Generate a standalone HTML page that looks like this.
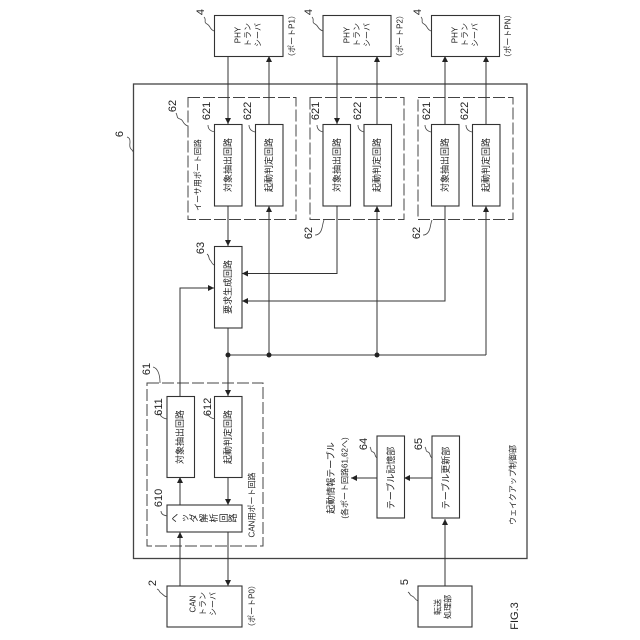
<!DOCTYPE html>
<html><head><meta charset="utf-8"><style>
html,body{margin:0;padding:0;background:#fff}
svg{display:block}
text{font-family:"Liberation Sans","Noto Sans CJK JP",sans-serif;fill:#222;text-anchor:middle;dominant-baseline:central}
.b{fill:#fff;stroke:#333;stroke-width:1.1}
.d{fill:none;stroke:#444;stroke-width:1;stroke-dasharray:12 3}
.l{fill:none;stroke:#333;stroke-width:1}
.c{fill:none;stroke:#444;stroke-width:.8}
.a{marker-end:url(#m)}
</style></head><body>
<svg width="640" height="640" viewBox="0 0 640 640" xmlns="http://www.w3.org/2000/svg">
<defs><marker id="m" markerUnits="userSpaceOnUse" markerWidth="7" markerHeight="7" refX="6" refY="3" orient="auto"><path d="M0,0L6,3L0,6Z" fill="#222"/></marker></defs>
<rect width="640" height="640" fill="#fff"/>
<rect x="133.500" y="84" width="393.500" height="474.500" fill="none" stroke="#444" stroke-width="1.300"/>
<rect class="d" x="188" y="97.500" width="108" height="122"/>
<rect class="d" x="310" y="97.500" width="94" height="122"/>
<rect class="d" x="418" y="97.500" width="95" height="122"/>
<rect class="d" x="147" y="383" width="116" height="163"/>
<g>
<path class="l a" d="M228,56V124"/><path class="l a" d="M269,124V56"/>
<path class="l a" d="M337,56V124"/><path class="l a" d="M377,124V56"/>
<path class="l a" d="M445,124V56"/><path class="l a" d="M486,124V56"/>
<path class="l a" d="M228,206V246"/>
<path class="l a" d="M269,355V206"/><path class="l a" d="M377,355V206"/><path class="l a" d="M486,355V206"/>
<path class="l a" d="M337,206V273.500H242"/>
<path class="l a" d="M445,206V301H242"/>
<path class="l a" d="M180,396V288H214"/>
<path class="l a" d="M228,328V396"/>
<path class="l" d="M228,355H486"/>
<path class="l a" d="M180,505V477"/>
<path class="l a" d="M228,477V505"/>
<path class="l a" d="M180,586V532"/>
<path class="l a" d="M228,532V586"/>
<path class="l a" d="M432,478H404"/>
<path class="l a" d="M377,478H351"/>
<path class="l a" d="M445,586V519"/>
<circle cx="228" cy="355" r="2.500" fill="#222"/><circle cx="269" cy="355" r="2.500" fill="#222"/><circle cx="377" cy="355" r="2.500" fill="#222"/>
</g>
<rect class="b" x="214.500" y="15.500" width="68.500" height="41"/>
<rect class="b" x="323" y="15.500" width="68" height="41"/>
<rect class="b" x="431.500" y="15.500" width="68" height="41"/>
<rect class="b" x="214.500" y="124.500" width="27.500" height="81.500"/><rect class="b" x="255.500" y="124.500" width="27.500" height="81.500"/>
<rect class="b" x="323" y="124.500" width="27.500" height="81.500"/><rect class="b" x="364" y="124.500" width="27.500" height="81.500"/>
<rect class="b" x="431.500" y="124.500" width="27.500" height="81.500"/><rect class="b" x="472.500" y="124.500" width="27.500" height="81.500"/>
<rect class="b" x="214.500" y="246.500" width="27.500" height="81.500"/>
<rect class="b" x="167" y="396.500" width="27.500" height="81"/><rect class="b" x="214.500" y="396.500" width="27.500" height="81"/>
<rect class="b" x="167" y="505" width="75" height="27"/>
<rect class="b" x="167" y="586" width="75" height="41"/>
<rect class="b" x="377" y="436" width="27.500" height="82"/><rect class="b" x="432" y="436" width="27.500" height="82"/>
<rect class="b" x="418" y="586" width="54" height="41"/>

<!-- curls -->
<path class="c" d="M204,17c3,3 -1,5 3,7s2,5 7,7"/>
<path class="c" d="M312,17c3,3 -1,5 3,7s2,5 8,7"/>
<path class="c" d="M421,17c3,3 -1,5 3,7s2,5 7,7"/>
<path class="c" d="M176,113c2,3 0,5 4,6s2,5 8,7"/>
<path class="c" d="M208,125c0,4 2,6 7,7"/><path class="c" d="M249,125c0,4 2,6 6,7"/>
<path class="c" d="M317,125c0,4 2,6 6,7"/><path class="c" d="M358,125c0,4 2,6 6,7"/>
<path class="c" d="M425,125c0,4 2,6 6,7"/><path class="c" d="M466,125c0,4 2,6 6,7"/>
<path class="c" d="M315,235c4,0 6,-3 7,-7s1,-6 2,-8"/>
<path class="c" d="M423,235c4,0 6,-3 7,-7s1,-6 2,-8"/>
<path class="c" d="M127,137c3,1 3,3 3,5s-1,5 1,7s2,2 2,3"/>
<path class="c" d="M207,254c3,2 1,4 3,6s1,3 4,5"/>
<path class="c" d="M153,367c4,1 7,6 7,16"/>
<path class="c" d="M160,413c0,3 2,5 7,6"/><path class="c" d="M208,413c0,3 2,5 7,6"/>
<path class="c" d="M161,511c0,3 2,4 6,5"/>
<path class="c" d="M157,589c3,1 2,3 4,4s2,3 6,4"/>
<path class="c" d="M370,447c2,3 0,4 3,5s1,4 4,6"/>
<path class="c" d="M425,447c2,3 0,4 3,5s1,4 4,6"/>
<path class="c" d="M408,592c3,2 1,3 4,4s2,3 6,5"/>

<!-- box text -->
<g font-size="8">
<text transform="translate(238,35) rotate(-90)">PHY</text><text transform="translate(248,35) rotate(-90)">トラン</text><text transform="translate(258,35) rotate(-90)">シーバ</text>
<text transform="translate(347,35) rotate(-90)">PHY</text><text transform="translate(357,35) rotate(-90)">トラン</text><text transform="translate(367,35) rotate(-90)">シーバ</text>
<text transform="translate(455,35) rotate(-90)">PHY</text><text transform="translate(465,35) rotate(-90)">トラン</text><text transform="translate(475,35) rotate(-90)">シーバ</text>
<text transform="translate(193,604) rotate(-90)">CAN</text><text transform="translate(203,604) rotate(-90)">トラン</text><text transform="translate(213,604) rotate(-90)">シーバ</text>
<text transform="translate(292,36) rotate(-90)">（ポートP1）</text>
<text transform="translate(400,36) rotate(-90)">（ポートP2）</text>
<text transform="translate(508,36) rotate(-90)">（ポートPN）</text>
<text transform="translate(252,606) rotate(-90)">（ポートP0）</text>
<text transform="translate(198,175) rotate(-90)">イーサ用ポート回路</text>
<text transform="translate(252,505) rotate(-90)">CAN用ポート回路</text>
<text transform="translate(438,607) rotate(-90)">転送</text><text transform="translate(448,607) rotate(-90)">処理部</text>
<text transform="translate(513,485) rotate(-90)">ウェイクアップ制御部</text>
<text transform="translate(345,478) rotate(-90)">(各ポート回路61,62へ)</text>
<text transform="translate(331,478) rotate(-90)" font-size="9">起動情報テーブル</text>
</g>
<g font-size="9">
<text transform="translate(228,165) rotate(-90)">対象抽出回路</text><text transform="translate(269,165) rotate(-90)">起動判定回路</text>
<text transform="translate(337,165) rotate(-90)">対象抽出回路</text><text transform="translate(377,165) rotate(-90)">起動判定回路</text>
<text transform="translate(445,165) rotate(-90)">対象抽出回路</text><text transform="translate(486,165) rotate(-90)">起動判定回路</text>
<text transform="translate(228,287) rotate(-90)">要求生成回路</text>
<text transform="translate(180,437) rotate(-90)">対象抽出回路</text><text transform="translate(228,437) rotate(-90)">起動判定回路</text>
<text transform="translate(391,478) rotate(-90)">テーブル記憶部</text>
<text transform="translate(446,478) rotate(-90)">テーブル更新部</text>
<text transform="translate(175,518) rotate(-90)">ヘ</text><text transform="translate(185,518) rotate(-90)">ッ</text><text transform="translate(194,518) rotate(-90)">ダ</text><text transform="translate(204,518) rotate(-90)">解</text><text transform="translate(214,518) rotate(-90)">析</text><text transform="translate(224,518) rotate(-90)">回</text><text transform="translate(233,518) rotate(-90)">路</text>
</g>
<!-- reference numbers -->
<g font-size="11">
<text transform="translate(201,12) rotate(-90)">4</text><text transform="translate(309,12) rotate(-90)">4</text><text transform="translate(418,12) rotate(-90)">4</text>
<text transform="translate(173,106) rotate(-90)">62</text><text transform="translate(309,233) rotate(-90)">62</text><text transform="translate(417,233) rotate(-90)">62</text>
<text transform="translate(207,111) rotate(-90)">621</text><text transform="translate(248,111) rotate(-90)">622</text>
<text transform="translate(316,111) rotate(-90)">621</text><text transform="translate(358,111) rotate(-90)">622</text>
<text transform="translate(427,111) rotate(-90)">621</text><text transform="translate(465,111) rotate(-90)">622</text>
<text transform="translate(120,134) rotate(-90)">6</text>
<text transform="translate(201,248) rotate(-90)">63</text>
<text transform="translate(147,369) rotate(-90)">61</text>
<text transform="translate(159,407) rotate(-90)">611</text><text transform="translate(208,407) rotate(-90)">612</text>
<text transform="translate(159,498) rotate(-90)">610</text>
<text transform="translate(153,583) rotate(-90)">2</text>
<text transform="translate(364,444) rotate(-90)">64</text><text transform="translate(419,444) rotate(-90)">65</text>
<text transform="translate(405,582) rotate(-90)">5</text>
<text transform="translate(515,616) rotate(-90)">FIG.3</text>
</g>
</svg>
</body></html>
